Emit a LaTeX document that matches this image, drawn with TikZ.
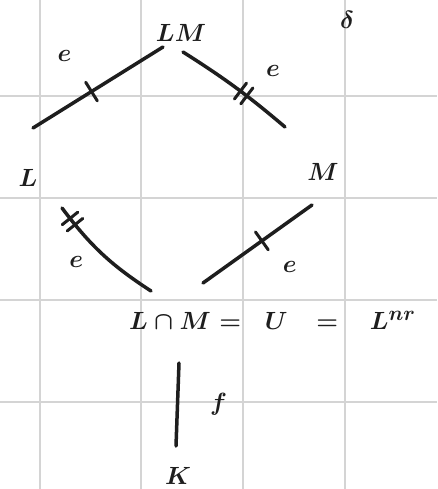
\documentclass[tikz,border=0pt]{standalone}
\usepackage{amsmath,amssymb}
\usepackage{xcolor}
\usepackage{tikz}
\usetikzlibrary{positioning,calc,decorations.markings}
\definecolor{gridgray}{HTML}{D4D4D4}
\definecolor{inkblack}{HTML}{1E1E1E}

\begin{document}
\begin{tikzpicture}[x=1pt,y=-1pt,
    gridline/.style={gridgray,line width=1.5pt},
    field/.style={inkblack,inner sep=0pt,font=\fontsize{32}{38}\selectfont\boldmath},
    ext/.style={inkblack,line width=3.5pt,line cap=round},
    lab/.style={inkblack,font=\fontsize{32}{38}\selectfont\boldmath},
    onetick/.style={postaction={decorate},decoration={markings,
        mark=at position #1 with {\draw[line width=3pt,line cap=round] (0,-11) -- (0,11);}}},
    twoticks/.style={postaction={decorate},decoration={markings,
        mark=at position #1 with {\draw[line width=3pt,line cap=round] (-4,-10) -- (-4,10) (4,-10) -- (4,10);}}}]
        % page and grid
        \fill[white] (0,0) rectangle (437,489);
        \useasboundingbox (0,0) rectangle (437,489);
        \foreach \gx in {40,141,243,345}
          \draw[gridline] (\gx,0) -- (\gx,489);
        \foreach \gy in {96,198,300,402}
          \draw[gridline] (0,\gy) -- (437,\gy);
        % fields
        \node[field] (LM) at (181,33) {$LM$};
        \node[field] (L) at (28,178) {$L$};
        \node[field] (M) at (323,172) {$M$};
        \node[field] (cap) at (170,321) {$L\cap M$};
        \node[field,anchor=base west] (unr) at ([xshift=8pt]cap.base east)
          {$=\;\;U\;\;\,=\;\;\;L^{nr}$};
        \node[field] (K) at (178,476) {$K$};
        \node[lab] (delta) at (347,20) {$\delta$};
        % e : L -- LM
        \draw[ext,onetick=0.45] ([shift={(5,-50)}]L.center) -- ([shift={(-18,14)}]LM.center)
          node[lab,pos=0.45,xshift=-27pt,yshift=36pt] {$e$};
        % e : LM -- M
        \draw[ext,twoticks=0.58] ([shift={(2,19)}]LM.center) to[bend left=4]
          node[lab,pos=0.58,xshift=30pt,yshift=22pt] {$e$} ([shift={(-38,-45)}]M.center);
        % e : L -- L cap M
        \draw[ext,twoticks=0.14] ([shift={(34,30)}]L.center) to[bend right=10]
          node[lab,pos=0.5,xshift=-26pt,yshift=-8pt] {$e$} ([shift={(-19,-30)}]cap.center);
        % e : M -- L cap M
        \draw[ext,onetick=0.46] ([shift={(-11,33)}]M.center) -- ([shift={(33,-38)}]cap.center)
          node[lab,pos=0.46,xshift=28pt,yshift=-26pt] {$e$};
        % f : L cap M -- K
        \draw[ext] ([shift={(9,42)}]cap.center) -- ([shift={(-2,-30)}]K.center)
          node[lab,pos=0.5,xshift=41pt] {$f$};
      \end{tikzpicture}
\end{document}
